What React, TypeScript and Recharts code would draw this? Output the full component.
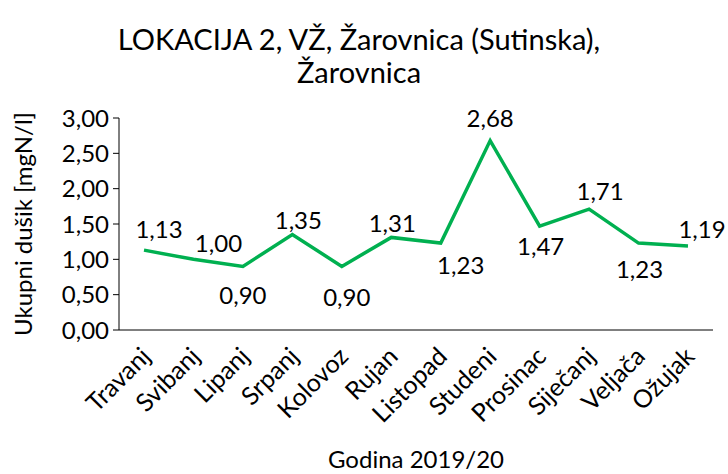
import React from 'react';
import { LineChart, Line, XAxis, YAxis, LabelList, Label } from 'recharts';

const months = ['Travanj', 'Svibanj', 'Lipanj', 'Srpanj', 'Kolovoz', 'Rujan', 'Listopad', 'Studeni', 'Prosinac', 'Siječanj', 'Veljača', 'Ožujak'];
const nitrogen = [1.13, 1.0, 0.9, 1.35, 0.9, 1.31, 1.23, 2.68, 1.47, 1.71, 1.23, 1.19];
const yTicks = [0, 0.5, 1, 1.5, 2, 2.5, 3];
const titleLines = ['LOKACIJA 2, VŽ, Žarovnica (Sutinska),', 'Žarovnica'];
const yTitle = 'Ukupni dušik [mgN/l]';
const xTitle = 'Godina 2019/20';

const data = months.map((m, i) => ({ month: m, value: nitrogen[i] }));

// manual label placement (dx, dy) relative to each point
const labelOffsets: [number, number][] = [
  [15, -22], [25, -17], [0, 28], [6, -15], [5, 30], [1, -15],
  [20, 21], [0, -23], [1, 19], [11, -19], [1, 25], [14, -17],
];

const FONT = 'Lato, "Open Sans", sans-serif';
const FS = 24;
const fmt = (v: number) => v.toFixed(2).replace('.', ',');

const ValueLabel = (props: any) => {
  const { x, y, value, index } = props;
  const [dx, dy] = labelOffsets[index] || [0, -15];
  return (
    <text x={x + dx} y={y + dy} textAnchor="middle" dominantBaseline="central" fontFamily={FONT} fontSize={FS} fill="#000">
      {fmt(Number(value))}
    </text>
  );
};

const XTick = (props: any) => {
  const { x, y, payload } = props;
  const tx = x + 8;
  const ty = y + 20;
  return (
    <text x={tx} y={ty} textAnchor="end" transform={`rotate(-45, ${tx}, ${ty})`} fontFamily={FONT} fontSize={FS + 1} fill="#000">
      {payload.value}
    </text>
  );
};

const YTitle = (props: any) => {
  const { viewBox } = props;
  const cy = viewBox.y + viewBox.height / 2;
  const cx = 22;
  return (
    <text x={cx} y={cy} textAnchor="middle" dominantBaseline="central" transform={`rotate(-90, ${cx}, ${cy})`} fontFamily={FONT} fontSize={FS} fill="#000">
      {yTitle}
    </text>
  );
};

export default function App() {
  return (
    <div style={{ position: 'absolute', left: 0, top: 0, width: 728, height: 474, background: '#fff' }}>
      <div style={{ position: 'absolute', left: 0, top: 22, width: 718, textAlign: 'center', fontFamily: FONT, fontSize: 29, lineHeight: '33px', color: '#000' }}>
        {titleLines.map((t) => (
          <div key={t}>{t}</div>
        ))}
      </div>
      <LineChart width={728} height={474} data={data} margin={{ top: 118, right: 15, bottom: 0, left: 0 }} style={{ position: 'absolute', left: 0, top: 0 }}>
        <XAxis
          dataKey="month"
          height={144}
          tick={<XTick />}
          tickLine={false}
          axisLine={{ stroke: '#000', strokeWidth: 1 }}
          padding={{ left: 25, right: 25 }}
          interval={0}
        >
          <Label value={xTitle} position="insideBottom" offset={6} style={{ fontFamily: FONT, fontSize: FS, fill: '#000' }} />
        </XAxis>
        <YAxis
          width={119}
          domain={[0, 3]}
          ticks={yTicks}
          tickFormatter={fmt}
          tick={{ fontFamily: FONT, fontSize: FS, fill: '#000' }}
          tickLine={{ stroke: '#000' }}
          tickSize={6}
          tickMargin={4}
          axisLine={{ stroke: '#000', strokeWidth: 1 }}
        >
          <Label content={<YTitle />} />
        </YAxis>
        <Line type="linear" dataKey="value" stroke="#00B050" strokeWidth={3.5} dot={false} isAnimationActive={false}>
          <LabelList dataKey="value" content={<ValueLabel />} />
        </Line>
      </LineChart>
    </div>
  );
}
